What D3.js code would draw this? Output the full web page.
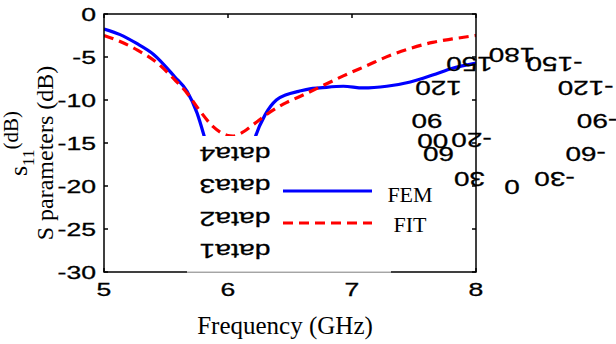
<!DOCTYPE html>
<html>
<head>
<meta charset="utf-8">
<script src="https://cdn.jsdelivr.net/npm/d3@7"></script>
<style>
  body { margin: 0; background: #fff; }
  svg { display: block; }
</style>
</head>
<body>
<svg id="chart" width="616" height="344"></svg>
<script>
// Reflection coefficient, full-wave FEM solution
const femFreq = [5.00, 5.13, 5.26, 5.40, 5.57, 5.67, 5.75, 5.81, 5.88, 5.95, 6.02, 6.09, 6.16, 6.22, 6.30, 6.39, 6.47, 6.57, 6.66, 6.74, 6.93, 7.09, 7.28, 7.47, 7.65, 7.81, 8.00];
const femDb   = [-1.74, -2.4, -3.4, -4.7, -7.3, -9.0, -11.5, -14.3, -18.0, -23.0, -27.0, -22.0, -17.5, -14.3, -11.7, -10.0, -9.4, -9.0, -8.7, -8.6, -8.4, -8.6, -8.4, -7.9, -7.1, -6.3, -5.7];

// Reflection coefficient, FIT solution
const fitFreq = [5.00, 5.13, 5.27, 5.43, 5.56, 5.67, 5.77, 5.88, 5.99, 6.04, 6.10, 6.20, 6.31, 6.47, 6.58, 6.71, 6.93, 7.12, 7.31, 7.47, 7.65, 7.81, 8.00];
const fitDb   = [-2.5, -3.2, -4.2, -5.7, -7.5, -9.2, -11.2, -13.1, -14.1, -14.2, -13.9, -12.9, -11.7, -10.3, -9.6, -8.7, -7.2, -6.0, -4.8, -4.0, -3.3, -2.9, -2.5];

const xTicks = [5, 6, 7, 8];
const yTicks = [0, -5, -10, -15, -20, -25, -30];
const seriesNames = ["FEM", "FIT"];
const seriesColors = ["#0000ff", "#ff0000"];
const stubNames = ["data4", "data3", "data2", "data1"];
const polarAngles = [0, 30, 60, 90, 120, 150, 180, -150, -120, -90, -60, -30];
const radialText = ["-20", "00"];
const radialAngle = [60, 72];
const radialFrac = [0.55, 0.98];

const svg = d3.select("#chart");
const SANS = "'Liberation Sans', Arial, Helvetica, sans-serif";
const SERIF = "'Liberation Serif', 'Times New Roman', Times, serif";

svg.append("rect").attr("width", 616).attr("height", 344).attr("fill", "#fff");

const x = d3.scaleLinear().domain([5, 8]).range([104, 476]);
const y = d3.scaleLinear().domain([-30, 0]).range([272, 14]);

svg.append("defs").append("clipPath").attr("id", "plotClip")
  .append("rect").attr("x", x(5)).attr("y", y(0))
  .attr("width", x(8) - x(5)).attr("height", y(-30) - y(0));

// curves
const line = d3.line().x(d => x(d[0])).y(d => y(d[1])).curve(d3.curveMonotoneX);
const fem = femFreq.map((f, i) => [f, femDb[i]]);
const fit = fitFreq.map((f, i) => [f, fitDb[i]]);

const plot = svg.append("g").attr("clip-path", "url(#plotClip)");
plot.append("path").datum(fem).attr("d", line)
  .attr("fill", "none").attr("stroke", seriesColors[0]).attr("stroke-width", 3.2);
plot.append("path").datum(fit).attr("d", line)
  .attr("fill", "none").attr("stroke", seriesColors[1]).attr("stroke-width", 3.2)
  .attr("stroke-dasharray", "10,6");

// axes frame with inward ticks
const frame = svg.append("g").attr("stroke", "#000").attr("stroke-width", 1.5);
frame.append("rect").attr("x", x(5)).attr("y", y(0))
  .attr("width", x(8) - x(5)).attr("height", y(-30) - y(0)).attr("fill", "none");
yTicks.forEach(t => {
  frame.append("line").attr("x1", x(5)).attr("x2", x(5) + 4).attr("y1", y(t)).attr("y2", y(t));
  frame.append("line").attr("x1", x(8)).attr("x2", x(8) - 4).attr("y1", y(t)).attr("y2", y(t));
});
xTicks.forEach(t => {
  frame.append("line").attr("x1", x(t)).attr("x2", x(t)).attr("y1", y(0)).attr("y2", y(0) + 4);
  frame.append("line").attr("x1", x(t)).attr("x2", x(t)).attr("y1", y(-30)).attr("y2", y(-30) - 4);
});

// tick labels (wide sans)
yTicks.forEach(t => {
  svg.append("text")
    .attr("transform", `translate(96,${y(t)}) scale(1.4,1)`)
    .attr("text-anchor", "end").attr("dy", "0.36em")
    .attr("font-family", SANS).attr("font-size", 19).attr("fill", "#000")
    .attr("stroke", "#000").attr("stroke-width", 0.3)
    .text(t);
});
xTicks.forEach(t => {
  svg.append("text")
    .attr("transform", `translate(${x(t)},296) scale(1.4,1)`)
    .attr("text-anchor", "middle")
    .attr("font-family", SANS).attr("font-size", 19).attr("fill", "#000")
    .attr("stroke", "#000").attr("stroke-width", 0.3)
    .text(t);
});

// axis titles
svg.append("text")
  .attr("x", 285).attr("y", 334).attr("text-anchor", "middle")
  .attr("font-family", SERIF).attr("font-size", 25).attr("fill", "#000")
  .text("Frequency (GHz)");

svg.append("text")
  .attr("transform", "translate(53,153) rotate(-90)")
  .attr("text-anchor", "middle")
  .attr("font-family", SERIF).attr("font-size", 24).attr("fill", "#000")
  .text("S parameters (dB)");

const s11 = svg.append("text")
  .attr("transform", "translate(27,176) rotate(-90)")
  .attr("font-family", SERIF).attr("fill", "#000");
s11.append("tspan").attr("font-size", 26).text("s");
s11.append("tspan").attr("font-size", 17).attr("dy", 7).text("11");
s11.append("tspan").attr("font-size", 21).attr("dy", -16).text("(dB)");

// legend panel
const legend = svg.append("g");
legend.append("rect").attr("x", 187).attr("y", 136).attr("width", 204).attr("height", 136)
  .attr("fill", "#fff");
legend.append("line").attr("x1", 187).attr("x2", 391).attr("y1", 272).attr("y2", 272)
  .attr("stroke", "#c8c8c8").attr("stroke-width", 1.5);

stubNames.forEach((s, i) => {
  legend.append("text")
    .attr("transform", `translate(235,${154 + i * 32.5}) rotate(180) scale(1.35,1)`)
    .attr("text-anchor", "middle").attr("dy", "0.35em")
    .attr("font-family", SANS).attr("font-size", 21).attr("fill", "#000")
    .attr("stroke", "#000").attr("stroke-width", 0.3)
    .text(s);
});

seriesNames.forEach((name, i) => {
  const ly = 191 + i * 32;
  legend.append("line").attr("x1", 283).attr("x2", 372).attr("y1", ly).attr("y2", ly)
    .attr("stroke", seriesColors[i]).attr("stroke-width", 3.2)
    .attr("stroke-dasharray", i === 1 ? "10,6" : null);
  legend.append("text")
    .attr("x", 410).attr("y", ly + 3 - i * 2).attr("dy", "0.35em").attr("text-anchor", "middle")
    .attr("font-family", SERIF).attr("font-size", 22).attr("fill", "#000")
    .text(name);
});

// polar angle labels, upside down
const cx = 512, cy = 122, rx = 85, ry = 66;
const rad = a => a * Math.PI / 180;
const flipped = (txt, px, py) => svg.append("text")
  .attr("transform", `translate(${px},${py}) rotate(180) scale(1.33,1)`)
  .attr("text-anchor", "middle").attr("dy", "0.36em")
  .attr("font-family", SANS).attr("font-size", 21).attr("fill", "#000")
  .attr("stroke", "#000").attr("stroke-width", 0.3)
  .text(txt);

polarAngles.forEach(a => {
  flipped(a, cx - rx * Math.sin(rad(a)), cy + ry * Math.cos(rad(a)));
});
radialText.forEach((t, i) => {
  const a = radialAngle[i], r = radialFrac[i];
  flipped(t, cx - rx * r * Math.sin(rad(a)), cy + ry * r * Math.cos(rad(a)));
});
</script>
</body>
</html>
